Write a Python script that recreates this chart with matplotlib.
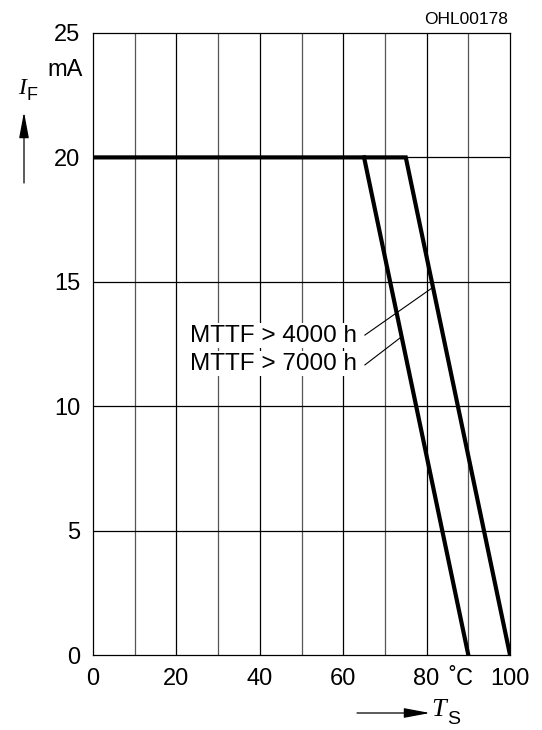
import matplotlib
matplotlib.use("Agg")
import matplotlib.pyplot as plt

plt.rcParams['font.family'] = ['Liberation Sans', 'DejaVu Sans']

# derating curves, forward current vs solder temperature
ts_4000 = [0, 75, 100]
if_4000 = [20, 20, 0]
ts_7000 = [65, 90]
if_7000 = [20, 0]

x_ticks = [0, 20, 40, 60, 80, 88.3, 100]
x_labels = ['0', '20', '40', '60', '80', '˚C', '100']
y_ticks = [0, 5, 10, 15, 20, 25]
y_labels = ['0', '5', '10', '15', '20', '25']

fig = plt.figure(figsize=(5.42, 7.30), dpi=100)
ax = fig.add_axes([0.1716, 0.1027, 0.9410 - 0.1716, 0.9548 - 0.1027])

ax.set_xlim(0, 100)
ax.set_ylim(0, 25)
for x in range(10, 100, 10):
    ax.axvline(x, color='#555555' if x % 20 else 'black', lw=0.9, zorder=1)
for y in range(5, 25, 5):
    ax.axhline(y, color='black', lw=0.9, zorder=1)

ax.plot(ts_4000, if_4000, color='black', lw=3, solid_joinstyle='miter', zorder=3)
ax.plot(ts_7000, if_7000, color='black', lw=3, zorder=3)

for s in ax.spines.values():
    s.set_linewidth(0.9)

ax.set_xticks(x_ticks)
ax.set_xticklabels(x_labels, fontsize=17)
ax.set_yticks(y_ticks)
ax.set_yticklabels(y_labels, fontsize=17)
ax.tick_params(length=0)
ax.tick_params(axis='x', pad=9)
ax.tick_params(axis='y', pad=9)

# labels with leader lines
ax.text(63.2, 12.84, 'MTTF > 4000 h', fontsize=17.5, ha='right', va='center',
        bbox=dict(facecolor='white', edgecolor='none', pad=1), zorder=4)
ax.text(63.2, 11.70, 'MTTF > 7000 h', fontsize=17.5, ha='right', va='center',
        bbox=dict(facecolor='white', edgecolor='none', pad=1), zorder=4)
ax.plot([65.2, 81.2], [12.86, 14.74], color='black', lw=0.8, zorder=2)
ax.plot([65.2, 73.6], [11.66, 12.74], color='black', lw=0.8, zorder=2)

# axis captions
fig.text(508 / 542, 1 - 20 / 730, 'OHL00178', fontsize=12.5, ha='right', va='center')
fig.text(83 / 542, 1 - 70 / 730, 'mA', fontsize=17, ha='right', va='center')
fig.text(26 / 542, 1 - 89 / 730, 'I', fontsize=17, family='Liberation Serif',
         style='italic', ha='right', va='center')
fig.text(27 / 542, 1 - 96 / 730, 'F', fontsize=13, ha='left', va='center')
arrow = dict(arrowstyle='-|>,head_length=0.8,head_width=0.15', color='black',
             lw=0.9, mutation_scale=20, shrinkA=0, shrinkB=0)
ax.annotate('', xy=(24 / 542, 1 - 112 / 730), xytext=(24 / 542, 1 - 183 / 730),
            xycoords='figure fraction', textcoords='figure fraction',
            arrowprops=arrow)

ax.annotate('', xy=(430 / 542, 1 - 713 / 730), xytext=(357 / 542, 1 - 713 / 730),
            xycoords='figure fraction', textcoords='figure fraction',
            arrowprops=arrow)
fig.text(431 / 542, 1 - 710 / 730, 'T', fontsize=19, family='Liberation Serif',
         style='italic', ha='left', va='center')
fig.text(447 / 542, 1 - 720 / 730, 'S', fontsize=14, ha='left', va='center')

fig.savefig('out.png', dpi=100)
